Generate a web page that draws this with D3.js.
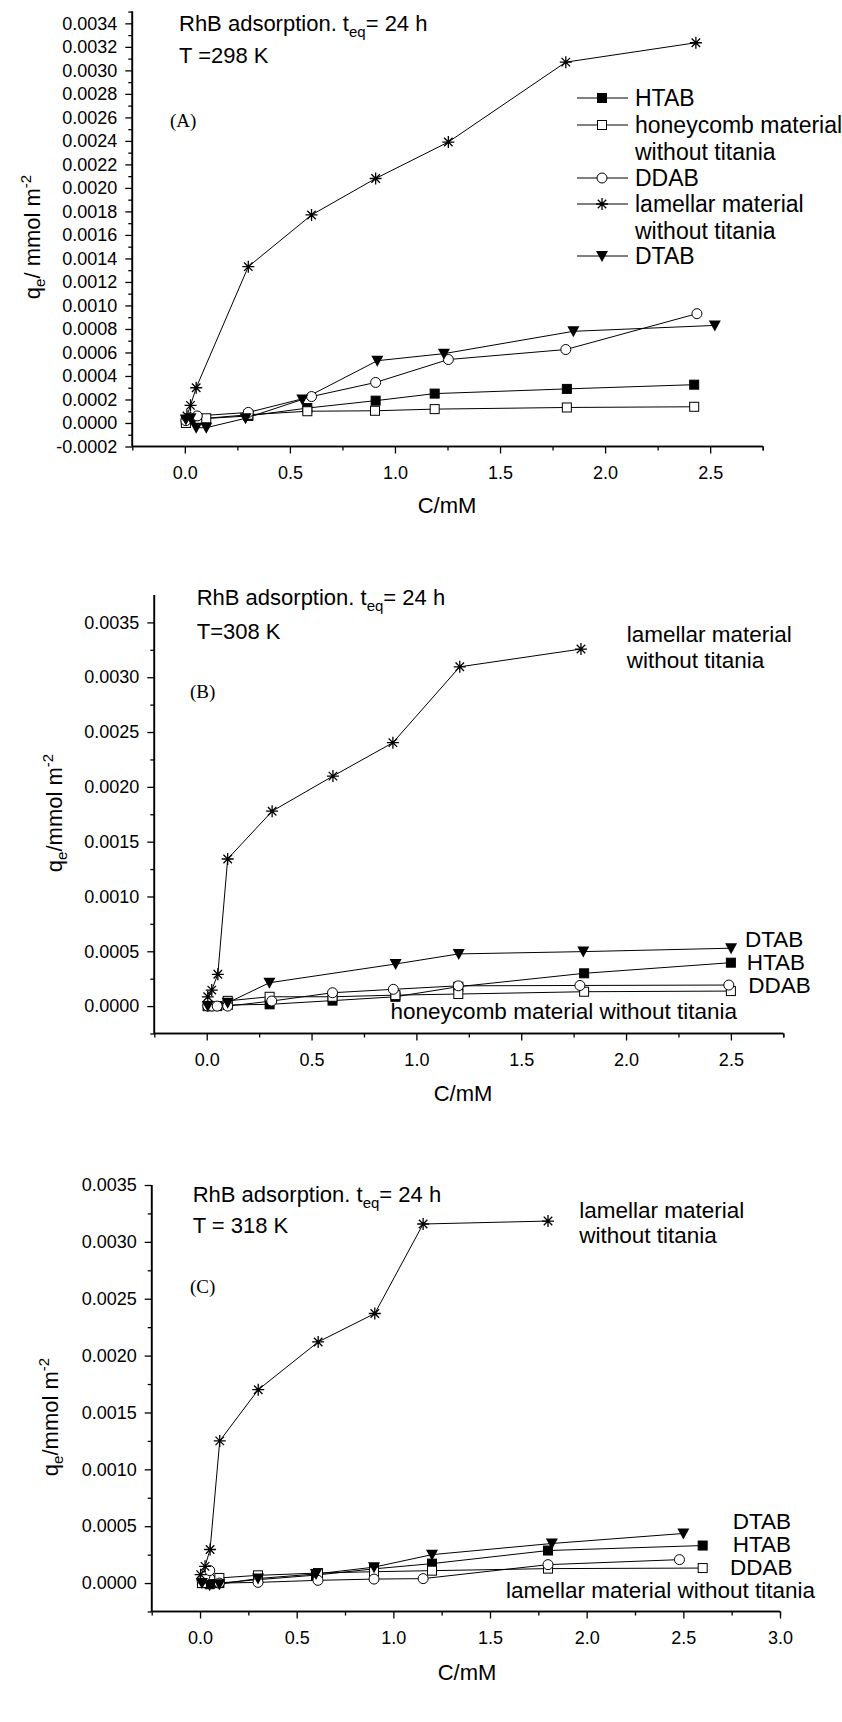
<!DOCTYPE html>
<html><head><meta charset="utf-8">
<script src="https://cdn.jsdelivr.net/npm/d3@7"></script>
<style>
body{margin:0;background:#fff;}
svg{display:block;}
text{font-family:"Liberation Sans",Arial,sans-serif;fill:#000;}
</style></head>
<body>
<svg id="chart" width="842" height="1722"></svg>
<script>
// ---------- DATA (C in mM, qe in mmol m^-2) ----------
// Panel A, T = 298 K
const A_HTAB      = [[0.005,0.00002],[0.027,0.00003],[0.302,0.00006],[0.583,0.000127],[0.908,0.00019],[1.189,0.00025],[1.818,0.00029],[2.424,0.000326]];
const A_honeycomb = [[0.005,0.0],[0.102,0.00004],[0.302,0.00007],[0.583,0.0001],[0.905,0.000104],[1.189,0.000118],[1.818,0.000132],[2.424,0.000138]];
const A_DDAB      = [[0.005,0.00002],[0.059,0.00006],[0.302,0.00009],[0.603,0.000225],[0.908,0.000345],[1.254,0.00054],[1.813,0.000625],[2.437,0.00093]];
const A_lamellar  = [[0.01,0.00006],[0.027,0.00015],[0.054,0.0003],[0.302,0.00133],[0.603,0.00177],[0.908,0.00208],[1.254,0.00239],[1.813,0.00307],[2.432,0.003235]];
const A_DTAB      = [[0.005,0.00003],[0.027,0.00004],[0.054,-0.00004],[0.102,-0.00004],[0.289,0.00004],[0.559,0.0002],[0.916,0.00053],[1.233,0.00059],[1.849,0.00078],[2.522,0.00083]];
// Panel B, T = 308 K
const B_HTAB      = [[0.005,0.0],[0.05,0.0],[0.1,0.00001],[0.3,0.000016],[0.6,0.00005],[0.9,0.000085],[1.2,0.000177],[1.8,0.000299],[2.5,0.000396]];
const B_honeycomb = [[0.005,0.0],[0.1,0.000048],[0.3,0.000085],[0.6,0.000085],[0.9,0.0001],[1.2,0.00011],[1.8,0.000131],[2.5,0.000137]];
const B_DDAB      = [[0.005,0.0],[0.025,0.0],[0.05,0.0],[0.1,0.0],[0.31,0.000046],[0.6,0.000122],[0.89,0.000153],[1.2,0.000185],[1.78,0.000188],[2.49,0.000192]];
const B_lamellar  = [[0.005,0.000085],[0.024,0.000146],[0.053,0.00029],[0.1,0.001342],[0.312,0.001778],[0.602,0.002098],[0.888,0.002403],[1.207,0.003095],[1.785,0.003257]];
const B_DTAB      = [[0.005,0.0],[0.1,0.00003],[0.299,0.000213],[0.901,0.000384],[1.202,0.000476],[1.796,0.000497],[2.501,0.000528]];
// Panel C, T = 318 K
const C_HTAB      = [[0.01,0.0],[0.05,-0.00001],[0.1,0.0],[0.3,0.00003],[0.6,0.00007],[0.9,0.000125],[1.2,0.000171],[1.8,0.000286],[2.6,0.00033]];
const C_honeycomb = [[0.01,0.0],[0.1,0.000045],[0.3,0.000068],[0.61,0.000088],[0.9,0.0001],[1.2,0.000109],[1.8,0.000127],[2.6,0.000132]];
const C_DDAB      = [[0.01,0.00003],[0.025,0.00006],[0.05,0.00011],[0.1,0.0],[0.3,0.000006],[0.61,0.000024],[0.9,0.000035],[1.154,0.000039],[1.8,0.000162],[2.48,0.000206]];
const C_lamellar  = [[0.003,0.000074],[0.026,0.000147],[0.052,0.000295],[0.102,0.00125],[0.301,0.0017],[0.611,0.00212],[0.904,0.00237],[1.154,0.003157],[1.8,0.003183]];
const C_DTAB      = [[0.01,0.0],[0.05,-0.00002],[0.1,-0.00001],[0.3,0.00004],[0.6,0.00008],[0.9,0.00014],[1.2,0.00025],[1.82,0.000348],[2.5,0.000436]];

const xTicksAB = [0.0,0.5,1.0,1.5,2.0,2.5];
const xTicksC  = [0.0,0.5,1.0,1.5,2.0,2.5,3.0];
const yTicksA  = [-0.0002,0,0.0002,0.0004,0.0006,0.0008,0.0010,0.0012,0.0014,0.0016,0.0018,0.0020,0.0022,0.0024,0.0026,0.0028,0.0030,0.0032,0.0034];
const yTicksBC = [0,0.0005,0.0010,0.0015,0.0020,0.0025,0.0030,0.0035];
const legendA  = [["HTAB"],["honeycomb material","without titania"],["DDAB"],["lamellar material","without titania"],["DTAB"]];

// ---------- DRAWING ----------
const svg = d3.select("#chart");
const fmt4 = v => d3.format(".4f")(v).replace("\u2212", "-");

function marker(g, kind, x, y) {
  if (kind === "sqFill" || kind === "sqOpen") {
    g.append("rect").attr("x", x-4.5).attr("y", y-4.5).attr("width", 9).attr("height", 9)
      .attr("fill", kind === "sqFill" ? "#000" : "#fff").attr("stroke", "#000").attr("stroke-width", 1);
  } else if (kind === "circ") {
    g.append("circle").attr("cx", x).attr("cy", y).attr("r", 5)
      .attr("fill", "#fff").attr("stroke", "#000").attr("stroke-width", 1);
  } else if (kind === "tri") {
    g.append("path").attr("d", `M${x-6},${y-5}L${x+6},${y-5}L${x},${y+6}Z`).attr("fill", "#000");
  } else if (kind === "star") {
    const r = 6, p = [];
    for (let i = 0; i < 4; i++) {
      const a = i * Math.PI / 4;
      p.push(`M${x - r*Math.cos(a)},${y - r*Math.sin(a)}L${x + r*Math.cos(a)},${y + r*Math.sin(a)}`);
    }
    g.append("path").attr("d", p.join("")).attr("stroke", "#000").attr("stroke-width", 1.3).attr("fill", "none");
  }
}

function panel(cfg) {
  const x = d3.scaleLinear().domain(cfg.xd).range(cfg.xr);
  const y = d3.scaleLinear().domain(cfg.yd).range(cfg.yr);
  const g = svg.append("g");

  const xa = g.append("g").attr("transform", `translate(0,${cfg.yr[0]})`)
    .call(d3.axisBottom(x).tickValues(cfg.xTicks).tickSize(7).tickPadding(8).tickFormat(d3.format(".1f")));
  const xm = g.append("g").attr("transform", `translate(0,${cfg.yr[0]})`)
    .call(d3.axisBottom(x).tickValues(d3.range(cfg.xd[0], cfg.xd[1] + 0.001, 0.5).concat([cfg.xd[1]])).tickSize(4).tickFormat(""));
  const ya = g.append("g").attr("transform", `translate(${cfg.xr[0]},0)`)
    .call(d3.axisLeft(y).tickValues(cfg.yTicks).tickSize(7).tickPadding(8).tickFormat(fmt4));
  const ym = g.append("g").attr("transform", `translate(${cfg.xr[0]},0)`)
    .call(d3.axisLeft(y).tickValues(cfg.yMinor).tickSize(4).tickFormat(""));
  [xa, xm, ya, ym].forEach(a => {
    a.select(".domain").attr("stroke", "#000").attr("stroke-width", 1.6);
    a.selectAll(".tick line").attr("stroke", "#000").attr("stroke-width", 1.3);
    a.selectAll(".tick text").attr("font-size", 18).attr("font-family", '"Liberation Sans",Arial,sans-serif').attr("fill", "#000");
  });
  xa.selectAll(".domain").attr("d", `M${cfg.xr[0]},0H${cfg.xr[1]}`);
  xm.selectAll(".domain").attr("d", `M${cfg.xr[0]},0H${cfg.xr[1]}`);
  ya.selectAll(".domain").attr("d", `M0,${cfg.yr[0]}V${cfg.yr[1]}`);
  ym.selectAll(".domain").attr("d", `M0,${cfg.yr[0]}V${cfg.yr[1]}`);
  xa.selectAll(".tick text").attr("dy", "0.95em");

  const line = d3.line().x(d => x(d[0])).y(d => y(d[1]));
  cfg.series.forEach(s => {
    g.append("path").datum(s.data).attr("d", line).attr("fill", "none").attr("stroke", "#000").attr("stroke-width", 1);
  });
  cfg.series.forEach(s => {
    const mg = g.append("g");
    s.data.forEach(d => marker(mg, s.kind, x(d[0]), y(d[1])));
  });

  g.append("text").attr("x", cfg.xTitle[0]).attr("y", cfg.xTitle[1]).attr("text-anchor", "middle")
    .attr("font-size", 22).text("C/mM");
  const yt = g.append("text").attr("transform", `translate(${cfg.yTitle[0]},${cfg.yTitle[1]}) rotate(-90)`)
    .attr("text-anchor", "middle").attr("font-size", 22);
  yt.append("tspan").text("q");
  yt.append("tspan").attr("font-size", 15).attr("dy", 5).text("e");
  yt.append("tspan").attr("dy", -5).text(cfg.yUnit);
  yt.append("tspan").attr("font-size", 15).attr("dy", -9).text("-2");

  const t1 = g.append("text").attr("x", cfg.note[0]).attr("y", cfg.note[1]).attr("font-size", 22);
  t1.append("tspan").text("RhB  adsorption. t");
  t1.append("tspan").attr("font-size", 15).attr("dy", 6).text("eq");
  t1.append("tspan").attr("dy", -6).text("= 24 h");
  g.append("text").attr("x", cfg.note[0]).attr("y", cfg.note[2]).attr("font-size", 22).text(cfg.temp);
  g.append("text").attr("x", cfg.tag[0]).attr("y", cfg.tag[1]).attr("font-size", 19)
    .style("font-family", '"Liberation Serif","Times New Roman",serif').text(cfg.tagText);

  (cfg.labels || []).forEach(l => {
    g.append("text").attr("x", l[0]).attr("y", l[1]).attr("font-size", 22.5)
      .attr("text-anchor", l[3] || "start").text(l[2]);
  });
  return {g, x, y};
}

const yMinorA = d3.range(-2, 36, 2).map(i => (i + 1) * 0.0001).filter(v => v <= 0.0035);
const yMinorBC = d3.range(0, 16, 2).map(i => (i - 1) * 0.00025);

// Panel A
panel({
  xd: [-0.25, 2.75], xr: [132.3, 762.7], yd: [-0.0002, 0.0035], yr: [446.5, 11.6],
  xTicks: xTicksAB, yTicks: yTicksA, yMinor: yMinorA,
  series: [
    {data: A_HTAB, kind: "sqFill"}, {data: A_honeycomb, kind: "sqOpen"}, {data: A_DDAB, kind: "circ"},
    {data: A_lamellar, kind: "star"}, {data: A_DTAB, kind: "tri"}
  ],
  xTitle: [447, 513], yTitle: [40, 237], yUnit: "/ mmol m",
  note: [179, 31, 63], temp: "T =298 K", tag: [170, 127], tagText: "(A)"
});
const legKinds = ["sqFill", "sqOpen", "circ", "star", "tri"];
const legRows = [98, 125, 178, 204, 256];
legendA.forEach((lab, i) => {
  const lg = svg.append("g");
  lg.append("line").attr("x1", 577).attr("x2", 628).attr("y1", legRows[i]).attr("y2", legRows[i])
    .attr("stroke", "#000").attr("stroke-width", 1);
  marker(lg, legKinds[i], 602, legRows[i]);
  lab.forEach((t, j) => {
    lg.append("text").attr("x", 635).attr("y", legRows[i] + 8 + j * 27).attr("font-size", 23).text(t);
  });
});

// Panel B
panel({
  xd: [-0.25, 2.75], xr: [154.3, 783.3], yd: [-0.00025, 0.00375], yr: [1033.5, 595],
  xTicks: xTicksAB, yTicks: yTicksBC, yMinor: yMinorBC.filter(v => v < 0.0037),
  series: [
    {data: B_HTAB, kind: "sqFill"}, {data: B_honeycomb, kind: "sqOpen"}, {data: B_DDAB, kind: "circ"},
    {data: B_lamellar, kind: "star"}, {data: B_DTAB, kind: "tri"}
  ],
  xTitle: [463, 1101], yTitle: [62, 813], yUnit: "/mmol m",
  note: [196.7, 605, 639], temp: "T=308 K", tag: [190, 698], tagText: "(B)",
  labels: [[626.7, 641.7, "lamellar material"], [626.7, 668.3, "without titania"],
           [745, 947, "DTAB"], [746.7, 970, "HTAB"], [748.3, 993, "DDAB"],
           [737, 1019.3, "honeycomb material without titania", "end"]]
});

// Panel C
panel({
  xd: [-0.25, 3.0], xr: [151.7, 780], yd: [-0.00025, 0.0035], yr: [1611.5, 1185],
  xTicks: xTicksC, yTicks: yTicksBC, yMinor: yMinorBC.filter(v => v < 0.0035),
  series: [
    {data: C_HTAB, kind: "sqFill"}, {data: C_honeycomb, kind: "sqOpen"}, {data: C_DDAB, kind: "circ"},
    {data: C_lamellar, kind: "star"}, {data: C_DTAB, kind: "tri"}
  ],
  xTitle: [467, 1680], yTitle: [58, 1417], yUnit: "/mmol m",
  note: [192.7, 1201.7, 1233.3], temp: "T = 318 K", tag: [190, 1293], tagText: "(C)",
  labels: [[732.7, 1218.3, "lamellar material", "start"].map((v, i) => i === 0 ? 579.3 : v), [579.3, 1243.3, "without titania"],
           [732.7, 1528.5, "DTAB"], [732.7, 1551.5, "HTAB"], [730, 1574.5, "DDAB"],
           [815, 1598, "lamellar material without titania", "end"]]
});
</script>
</body></html>
